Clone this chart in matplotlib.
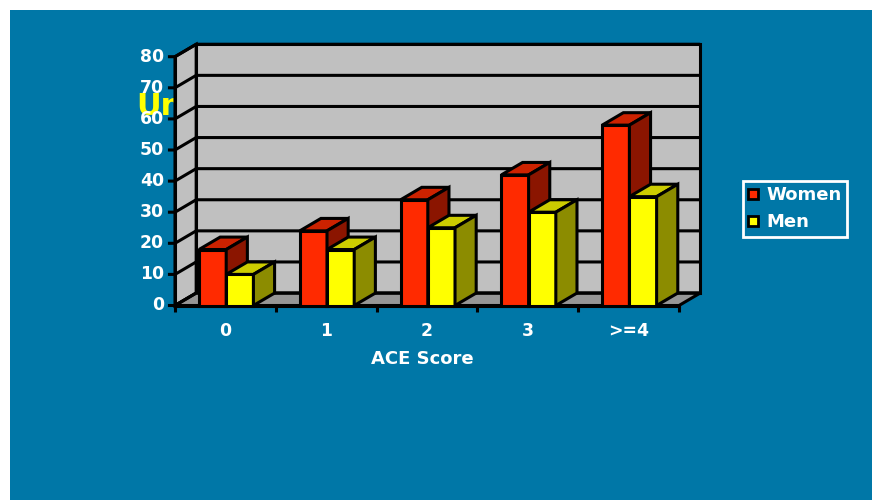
import matplotlib
matplotlib.use('Agg')
import matplotlib.pyplot as plt
from matplotlib.patches import Polygon, Rectangle, Patch

# Dados do grafico
categorias = ['0', '1', '2', '3', '>=4']
mulheres = [18, 24, 34, 42, 58]
homens = [10, 18, 25, 30, 35]
nomes_series = ['Women', 'Men']
ticks_y = [0, 10, 20, 30, 40, 50, 60, 70, 80]
rotulo_x = 'ACE Score'
titulo_escondido = 'Un'

# Cores
azul = '#0077a7'
cinza_parede = '#c0c0c0'
cinza_piso = '#969696'
cores_frente = ['#ff2a00', '#ffff00']
cores_topo = ['#cc2200', '#cccc00']
cores_lado = ['#8b1500', '#8c8c00']

# Escala em pixels (figura 872x500 a 100 dpi)
W, H = 872, 500
PX_X, X0 = 100.8, 175.0   # pixels por categoria, pixel do x=0
PX_Y, Y0 = 3.11, 305.5    # pixels por unidade, pixel (do topo) do y=0
xlim = (-1.5, 6.5)
ylim = (-30, 95)
DX, DY = 0.21, 4.0        # profundidade 3D
LW = 2.2
n = len(categorias)
ymax = ticks_y[-1]

fig = plt.figure(figsize=(W / 100, H / 100), dpi=100, facecolor='white')
fig.add_artist(Rectangle((10 / W, 0), 1, (H - 10) / H, transform=fig.transFigure,
                         facecolor=azul, edgecolor='none', zorder=-1))

esq = (X0 + xlim[0] * PX_X) / W
larg = (xlim[1] - xlim[0]) * PX_X / W
base = (H - (Y0 - ylim[0] * PX_Y)) / H
alt = (ylim[1] - ylim[0]) * PX_Y / H
ax = fig.add_axes([esq, base, larg, alt])
ax.set_xlim(*xlim)
ax.set_ylim(*ylim)
ax.axis('off')

fonte = {'family': ['DejaVu Sans'], 'weight': 'bold'}

# titulo escondido atras do grafico
ax.text(-0.385, 61.3, titulo_escondido, color='#ffff00', fontsize=22, ha='left',
        va='baseline', zorder=0.5, fontdict=fonte)

# paredes e piso
ax.add_patch(Polygon([(DX, DY), (n + DX, DY), (n + DX, ymax + DY), (DX, ymax + DY)],
                     closed=True, fc=cinza_parede, ec='black', lw=LW, zorder=1))
ax.add_patch(Polygon([(0, 0), (DX, DY), (DX, ymax + DY), (0, ymax)],
                     closed=True, fc=cinza_parede, ec='black', lw=LW, zorder=1))
ax.add_patch(Polygon([(0, 0), (n, 0), (n + DX, DY), (DX, DY)],
                     closed=True, fc=cinza_piso, ec='black', lw=LW, zorder=1))

# linhas de grade e marcas do eixo y
for t in ticks_y:
    ax.plot([-0.07, 0, DX, n + DX], [t, t, t + DY, t + DY], color='black', lw=LW,
            zorder=2, solid_capstyle='butt')
    ax.text(-0.11, t, str(t), color='white', fontsize=12.4, ha='right', va='center',
            zorder=5, fontdict=fonte)
ax.plot([0, 0], [0, ymax], color='black', lw=LW, zorder=2)
ax.plot([0, n], [0, 0], color='black', lw=LW, zorder=2)

# marcas do eixo x
for i in range(n + 1):
    ax.plot([i, i], [0, -2.2], color='black', lw=LW, zorder=2, solid_capstyle='butt')
for i, c in enumerate(categorias):
    ax.text(i + 0.5, -8.2, c, color='white', fontsize=12.4, ha='center', va='center',
            fontdict=fonte)
ax.text(2.45, -17.3, rotulo_x, color='white', fontsize=13, ha='center', va='center',
        fontdict=fonte)

# barras 3D
largura = 0.27
inicio = 0.238
for i in range(n):
    for s, valores in enumerate([mulheres, homens]):
        v = valores[i]
        x0 = i + inicio + s * largura
        x1 = x0 + largura
        z = 3 + i * 2 + s
        ax.add_patch(Polygon([(x0, 0), (x1, 0), (x1, v), (x0, v)], closed=True,
                             fc=cores_frente[s], ec='black', lw=LW, zorder=z,
                             joinstyle='miter'))
        ax.add_patch(Polygon([(x0, v), (x1, v), (x1 + DX, v + DY), (x0 + DX, v + DY)],
                             closed=True, fc=cores_topo[s], ec='black', lw=LW, zorder=z,
                             joinstyle='miter'))
        ax.add_patch(Polygon([(x1, 0), (x1 + DX, DY), (x1 + DX, v + DY), (x1, v)],
                             closed=True, fc=cores_lado[s], ec='black', lw=LW, zorder=z,
                             joinstyle='miter'))

# legenda
alcas = [Patch(fc=cores_frente[k], ec='black', lw=2) for k in range(2)]
leg = fig.legend(alcas, nomes_series, loc='upper left',
                 bbox_to_anchor=(743 / W, 1 - 181 / H), frameon=True, fancybox=False,
                 facecolor=azul, edgecolor='white', framealpha=1,
                 prop={'family': ['DejaVu Sans'], 'weight': 'bold', 'size': 13},
                 labelcolor='white', handlelength=0.55, handleheight=0.55,
                 handletextpad=0.45, borderpad=0.3, labelspacing=0.5, borderaxespad=0)
leg.get_frame().set_linewidth(2)

fig.savefig('out.png', dpi=100, facecolor='white')
